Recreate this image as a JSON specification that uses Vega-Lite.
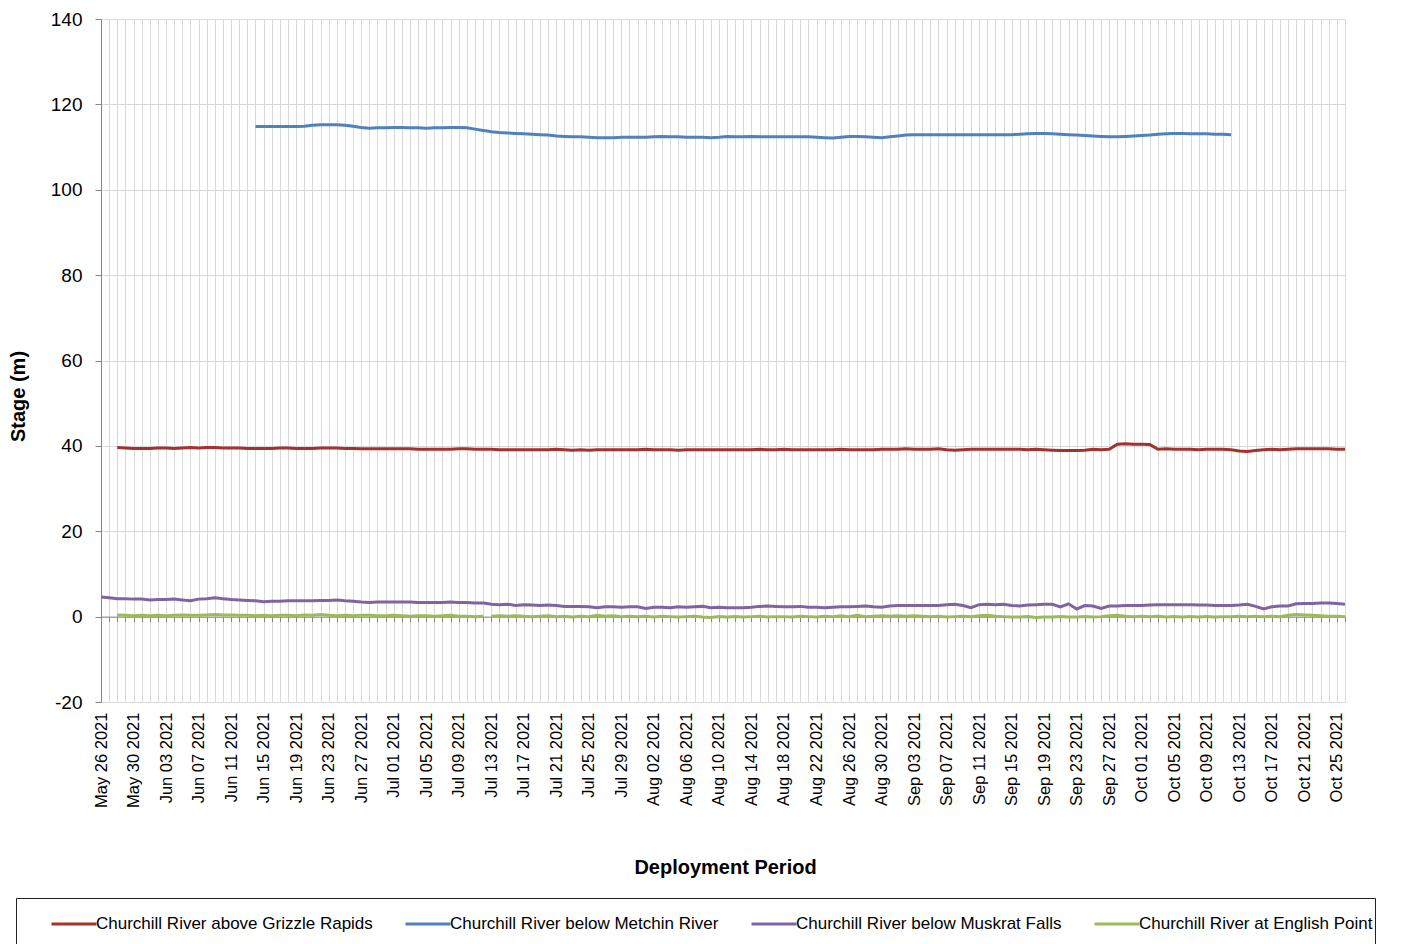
{
  "$schema": "https://vega.github.io/schema/vega-lite/v6.json",
  "width": 1244,
  "height": 683,
  "autosize": {"type": "none"},
  "padding": {"left": 101, "top": 19, "right": 58, "bottom": 242},
  "background": "white",
  "config": {
    "view": {"stroke": null},
    "font": "Liberation Sans",
    "axis": {"labelFont": "Liberation Sans", "titleFont": "Liberation Sans", "labelColor": "#000", "titleColor": "#000"}
  },
  "data": {"values": [
    {"d":"2021-05-26","c":4.6},
    {"d":"2021-05-27","c":4.4},
    {"d":"2021-05-28","a":39.6,"c":4.2,"e":0.4},
    {"d":"2021-05-29","a":39.5,"c":4.2,"e":0.3},
    {"d":"2021-05-30","a":39.4,"c":4.1,"e":0.2},
    {"d":"2021-05-31","a":39.4,"c":4.1,"e":0.3},
    {"d":"2021-06-01","a":39.4,"c":3.9,"e":0.2},
    {"d":"2021-06-02","a":39.5,"c":4.0,"e":0.3},
    {"d":"2021-06-03","a":39.5,"c":4.0,"e":0.2},
    {"d":"2021-06-04","a":39.4,"c":4.1,"e":0.3},
    {"d":"2021-06-05","a":39.5,"c":3.9,"e":0.4},
    {"d":"2021-06-06","a":39.6,"c":3.7,"e":0.3},
    {"d":"2021-06-07","a":39.5,"c":4.1,"e":0.3},
    {"d":"2021-06-08","a":39.6,"c":4.2,"e":0.4},
    {"d":"2021-06-09","a":39.6,"c":4.4,"e":0.5},
    {"d":"2021-06-10","a":39.5,"c":4.2,"e":0.4},
    {"d":"2021-06-11","a":39.5,"c":4.0,"e":0.4},
    {"d":"2021-06-12","a":39.5,"c":3.9,"e":0.3},
    {"d":"2021-06-13","a":39.4,"c":3.8,"e":0.3},
    {"d":"2021-06-14","a":39.4,"b":114.8,"c":3.7,"e":0.2},
    {"d":"2021-06-15","a":39.4,"b":114.8,"c":3.5,"e":0.3},
    {"d":"2021-06-16","a":39.4,"b":114.8,"c":3.6,"e":0.2},
    {"d":"2021-06-17","a":39.5,"b":114.8,"c":3.6,"e":0.3},
    {"d":"2021-06-18","a":39.5,"b":114.8,"c":3.7,"e":0.3},
    {"d":"2021-06-19","a":39.4,"b":114.8,"c":3.7,"e":0.2},
    {"d":"2021-06-20","a":39.4,"b":114.9,"c":3.7,"e":0.4},
    {"d":"2021-06-21","a":39.4,"b":115.1,"c":3.7,"e":0.3},
    {"d":"2021-06-22","a":39.5,"b":115.2,"c":3.8,"e":0.5},
    {"d":"2021-06-23","a":39.5,"b":115.2,"c":3.8,"e":0.3},
    {"d":"2021-06-24","a":39.5,"b":115.2,"c":3.9,"e":0.2},
    {"d":"2021-06-25","a":39.4,"b":115.1,"c":3.7,"e":0.3},
    {"d":"2021-06-26","a":39.4,"b":114.9,"c":3.6,"e":0.2},
    {"d":"2021-06-27","a":39.3,"b":114.6,"c":3.4,"e":0.3},
    {"d":"2021-06-28","a":39.3,"b":114.4,"c":3.3,"e":0.3},
    {"d":"2021-06-29","a":39.3,"b":114.5,"c":3.4,"e":0.2},
    {"d":"2021-06-30","a":39.3,"b":114.5,"c":3.4,"e":0.2},
    {"d":"2021-07-01","a":39.3,"b":114.6,"c":3.4,"e":0.3},
    {"d":"2021-07-02","a":39.3,"b":114.6,"c":3.4,"e":0.2},
    {"d":"2021-07-03","a":39.3,"b":114.5,"c":3.4,"e":0.1},
    {"d":"2021-07-04","a":39.2,"b":114.5,"c":3.3,"e":0.2},
    {"d":"2021-07-05","a":39.2,"b":114.4,"c":3.3,"e":0.2},
    {"d":"2021-07-06","a":39.2,"b":114.5,"c":3.3,"e":0.1},
    {"d":"2021-07-07","a":39.2,"b":114.5,"c":3.3,"e":0.2},
    {"d":"2021-07-08","a":39.2,"b":114.6,"c":3.4,"e":0.3},
    {"d":"2021-07-09","a":39.3,"b":114.6,"c":3.3,"e":0.1},
    {"d":"2021-07-10","a":39.3,"b":114.5,"c":3.3,"e":0.1},
    {"d":"2021-07-11","a":39.2,"b":114.2,"c":3.2,"e":0.0},
    {"d":"2021-07-12","a":39.2,"b":113.9,"c":3.2,"e":0.1},
    {"d":"2021-07-12T12:00:00Z","a":39.2,"b":113.75,"c":3.05},
    {"d":"2021-07-13","a":39.2,"b":113.6,"c":2.9,"e":0.1},
    {"d":"2021-07-14","a":39.1,"b":113.4,"c":2.8,"e":0.2},
    {"d":"2021-07-15","a":39.1,"b":113.3,"c":2.9,"e":0.1},
    {"d":"2021-07-16","a":39.1,"b":113.2,"c":2.6,"e":0.2},
    {"d":"2021-07-17","a":39.1,"b":113.1,"c":2.8,"e":0.1},
    {"d":"2021-07-18","a":39.1,"b":113.0,"c":2.7,"e":0.0},
    {"d":"2021-07-19","a":39.1,"b":112.9,"c":2.6,"e":0.1},
    {"d":"2021-07-20","a":39.1,"b":112.8,"c":2.7,"e":0.2},
    {"d":"2021-07-21","a":39.2,"b":112.6,"c":2.6,"e":0.0},
    {"d":"2021-07-22","a":39.1,"b":112.5,"c":2.4,"e":0.1},
    {"d":"2021-07-23","a":39.0,"b":112.4,"c":2.4,"e":-0.1},
    {"d":"2021-07-24","a":39.1,"b":112.4,"c":2.4,"e":0.1},
    {"d":"2021-07-25","a":39.0,"b":112.3,"c":2.3,"e":0.0},
    {"d":"2021-07-26","a":39.1,"b":112.2,"c":2.1,"e":0.3},
    {"d":"2021-07-27","a":39.1,"b":112.2,"c":2.3,"e":0.1},
    {"d":"2021-07-28","a":39.1,"b":112.2,"c":2.3,"e":0.2},
    {"d":"2021-07-29","a":39.1,"b":112.3,"c":2.2,"e":0.0},
    {"d":"2021-07-30","a":39.1,"b":112.3,"c":2.3,"e":0.1},
    {"d":"2021-07-31","a":39.1,"b":112.3,"c":2.3,"e":0.0},
    {"d":"2021-08-01","a":39.2,"b":112.3,"c":1.9,"e":0.1},
    {"d":"2021-08-02","a":39.1,"b":112.4,"c":2.2,"e":-0.1},
    {"d":"2021-08-03","a":39.1,"b":112.5,"c":2.2,"e":0.1},
    {"d":"2021-08-04","a":39.1,"b":112.4,"c":2.1,"e":0.0},
    {"d":"2021-08-05","a":39.0,"b":112.4,"c":2.3,"e":-0.1},
    {"d":"2021-08-06","a":39.1,"b":112.3,"c":2.2,"e":0.0},
    {"d":"2021-08-07","a":39.1,"b":112.3,"c":2.3,"e":0.1},
    {"d":"2021-08-08","a":39.1,"b":112.3,"c":2.4,"e":-0.1},
    {"d":"2021-08-09","a":39.1,"b":112.2,"c":2.1,"e":-0.2},
    {"d":"2021-08-10","a":39.1,"b":112.3,"c":2.2,"e":0.0},
    {"d":"2021-08-11","a":39.1,"b":112.5,"c":2.1,"e":-0.1},
    {"d":"2021-08-12","a":39.1,"b":112.4,"c":2.1,"e":0.0},
    {"d":"2021-08-13","a":39.1,"b":112.4,"c":2.1,"e":-0.1},
    {"d":"2021-08-14","a":39.1,"b":112.5,"c":2.2,"e":0.0},
    {"d":"2021-08-15","a":39.2,"b":112.4,"c":2.4,"e":0.1},
    {"d":"2021-08-16","a":39.1,"b":112.4,"c":2.5,"e":-0.1},
    {"d":"2021-08-17","a":39.1,"b":112.4,"c":2.4,"e":0.0},
    {"d":"2021-08-18","a":39.2,"b":112.4,"c":2.3,"e":0.0},
    {"d":"2021-08-19","a":39.1,"b":112.4,"c":2.3,"e":-0.1},
    {"d":"2021-08-20","a":39.1,"b":112.4,"c":2.4,"e":0.1},
    {"d":"2021-08-21","a":39.1,"b":112.4,"c":2.2,"e":0.0},
    {"d":"2021-08-22","a":39.1,"b":112.3,"c":2.2,"e":-0.1},
    {"d":"2021-08-23","a":39.1,"b":112.2,"c":2.1,"e":0.1},
    {"d":"2021-08-24","a":39.1,"b":112.1,"c":2.2,"e":0.0},
    {"d":"2021-08-25","a":39.2,"b":112.3,"c":2.3,"e":0.2},
    {"d":"2021-08-26","a":39.1,"b":112.5,"c":2.3,"e":0.0},
    {"d":"2021-08-27","a":39.1,"b":112.5,"c":2.4,"e":0.3},
    {"d":"2021-08-28","a":39.1,"b":112.4,"c":2.5,"e":0.0},
    {"d":"2021-08-29","a":39.1,"b":112.3,"c":2.3,"e":0.1},
    {"d":"2021-08-30","a":39.2,"b":112.2,"c":2.2,"e":0.2},
    {"d":"2021-08-31","a":39.2,"b":112.4,"c":2.5,"e":0.1},
    {"d":"2021-09-01","a":39.2,"b":112.6,"c":2.6,"e":0.2},
    {"d":"2021-09-02","a":39.3,"b":112.8,"c":2.6,"e":0.1},
    {"d":"2021-09-03","a":39.2,"b":112.9,"c":2.6,"e":0.2},
    {"d":"2021-09-04","a":39.2,"b":112.9,"c":2.6,"e":0.1},
    {"d":"2021-09-05","a":39.2,"b":112.9,"c":2.6,"e":0.0},
    {"d":"2021-09-06","a":39.3,"b":112.9,"c":2.6,"e":0.1},
    {"d":"2021-09-07","a":39.1,"b":112.9,"c":2.8,"e":-0.1},
    {"d":"2021-09-08","a":39.0,"b":112.9,"c":2.9,"e":0.0},
    {"d":"2021-09-09","a":39.1,"b":112.9,"c":2.6,"e":0.1},
    {"d":"2021-09-10","a":39.2,"b":112.9,"c":2.1,"e":0.0},
    {"d":"2021-09-11","a":39.2,"b":112.9,"c":2.8,"e":0.2},
    {"d":"2021-09-12","a":39.2,"b":112.9,"c":2.9,"e":0.3},
    {"d":"2021-09-13","a":39.2,"b":112.9,"c":2.8,"e":0.1},
    {"d":"2021-09-14","a":39.2,"b":112.9,"c":2.9,"e":0.0},
    {"d":"2021-09-15","a":39.2,"b":112.9,"c":2.6,"e":-0.1},
    {"d":"2021-09-16","a":39.2,"b":113.0,"c":2.5,"e":-0.1},
    {"d":"2021-09-17","a":39.1,"b":113.1,"c":2.7,"e":0.0},
    {"d":"2021-09-18","a":39.2,"b":113.2,"c":2.8,"e":-0.2},
    {"d":"2021-09-19","a":39.1,"b":113.2,"c":2.9,"e":-0.1},
    {"d":"2021-09-20","a":39.0,"b":113.1,"c":2.9,"e":-0.1},
    {"d":"2021-09-21","a":38.9,"b":113.0,"c":2.3,"e":0.0},
    {"d":"2021-09-22","a":38.9,"b":112.9,"c":3.0,"e":-0.1},
    {"d":"2021-09-23","a":38.9,"b":112.8,"c":1.8,"e":-0.1},
    {"d":"2021-09-24","a":39.0,"b":112.7,"c":2.6,"e":0.0},
    {"d":"2021-09-25","a":39.2,"b":112.6,"c":2.5,"e":-0.1},
    {"d":"2021-09-26","a":39.1,"b":112.5,"c":1.9,"e":0.0},
    {"d":"2021-09-27","a":39.2,"b":112.4,"c":2.5,"e":0.2},
    {"d":"2021-09-28","a":40.4,"b":112.4,"c":2.5,"e":0.3},
    {"d":"2021-09-29","a":40.5,"b":112.5,"c":2.6,"e":0.1},
    {"d":"2021-09-30","a":40.4,"b":112.6,"c":2.6,"e":0.0},
    {"d":"2021-10-01","a":40.4,"b":112.7,"c":2.6,"e":0.1},
    {"d":"2021-10-02","a":40.3,"b":112.8,"c":2.7,"e":0.0},
    {"d":"2021-10-03","a":39.2,"b":113.0,"c":2.8,"e":0.1},
    {"d":"2021-10-04","a":39.3,"b":113.1,"c":2.8,"e":-0.1},
    {"d":"2021-10-05","a":39.2,"b":113.2,"c":2.8,"e":0.0},
    {"d":"2021-10-06","a":39.2,"b":113.2,"c":2.8,"e":-0.1},
    {"d":"2021-10-07","a":39.2,"b":113.1,"c":2.8,"e":0.0},
    {"d":"2021-10-08","a":39.1,"b":113.1,"c":2.7,"e":-0.1},
    {"d":"2021-10-09","a":39.2,"b":113.1,"c":2.7,"e":0.0},
    {"d":"2021-10-10","a":39.2,"b":113.0,"c":2.6,"e":-0.1},
    {"d":"2021-10-11","a":39.2,"b":113.0,"c":2.6,"e":0.0},
    {"d":"2021-10-12","a":39.1,"b":112.9,"c":2.6,"e":0.0},
    {"d":"2021-10-13","a":38.8,"c":2.7,"e":0.1},
    {"d":"2021-10-14","a":38.7,"c":2.9,"e":0.0},
    {"d":"2021-10-15","a":38.9,"c":2.4,"e":0.1},
    {"d":"2021-10-16","a":39.1,"c":1.8,"e":0.0},
    {"d":"2021-10-17","a":39.2,"c":2.3,"e":0.1},
    {"d":"2021-10-18","a":39.1,"c":2.5,"e":0.0},
    {"d":"2021-10-19","a":39.2,"c":2.5,"e":0.3},
    {"d":"2021-10-20","a":39.3,"c":3.0,"e":0.5},
    {"d":"2021-10-21","a":39.3,"c":3.1,"e":0.4},
    {"d":"2021-10-22","a":39.3,"c":3.1,"e":0.3},
    {"d":"2021-10-23","a":39.3,"c":3.2,"e":0.2},
    {"d":"2021-10-24","a":39.3,"c":3.2,"e":0.1},
    {"d":"2021-10-25","a":39.2,"c":3.1,"e":0.1},
    {"d":"2021-10-26","a":39.2,"c":2.9,"e":0.0}
  ]},
  "transform": [
    {"fold": ["a", "b", "c", "e"], "as": ["series", "value"]}
  ],
  "mark": {"type": "line", "strokeWidth": 3, "invalid": "break-paths-filter-domains"},
  "encoding": {
    "x": {
      "field": "d", "type": "temporal",
      "scale": {"type": "utc", "domain": [{"year": 2021, "month": 5, "date": 26, "utc": true}, {"year": 2021, "month": 10, "date": 26, "utc": true}], "nice": false},
      "axis": {
        "title": "Deployment Period",
        "titleFontSize": 20, "titleFontWeight": "bold",
        "titleX": 624, "titleY": 250.4, "titleBaseline": "middle", "titleAlign": "center", "titleAnchor": null,
        "tickCount": {"interval": "day", "step": 1},
        "labelExpr": "(round((time(datum.value) - 1621987200000) / 86400000) % 4 == 0) ? utcFormat(datum.value, '%b %d %Y') : ''",
        "labelAngle": -90, "labelAlign": "right", "labelBaseline": "middle",
        "labelFontSize": 16.5, "labelOverlap": false, "labelFlush": false, "labelBound": false,
        "offset": -85.375,
        "labelPadding": 90.4,
        "tickSize": 5, "tickColor": "#868686", "domainColor": "#868686", "domainWidth": 1,
        "grid": true, "gridColor": "#d9d9d9", "gridWidth": 1
      }
    },
    "y": {
      "field": "value", "type": "quantitative",
      "scale": {"domain": [-20, 140], "nice": false, "zero": false},
      "axis": {
        "title": "Stage (m)",
        "titleFontSize": 20, "titleFontWeight": "bold",
        "titleX": -83, "titleY": 377, "titleAngle": -90, "titleBaseline": "middle", "titleAlign": "center", "titleAnchor": null,
        "values": [-20, 0, 20, 40, 60, 80, 100, 120, 140],
        "labelExpr": "'' + datum.value",
        "labelFontSize": 19, "labelPadding": 13,
        "tickSize": 6, "tickColor": "#868686", "domainColor": "#868686",
        "grid": true, "gridColor": "#d9d9d9", "gridWidth": 1
      }
    },
    "color": {
      "field": "series", "type": "nominal",
      "scale": {"domain": ["a", "b", "c", "e"], "range": ["#A3322F", "#4F81BD", "#8064A2", "#9BBB59"]},
      "legend": {
        "title": " ", "titleOrient": "left", "titlePadding": 32, "titleFontSize": 60, "titleAnchor": "start",
        "orient": "none", "legendX": -85, "legendY": 879,
        "direction": "horizontal",
        "labelExpr": "datum.label == 'a' ? 'Churchill River above Grizzle Rapids' : datum.label == 'b' ? 'Churchill River below Metchin River' : datum.label == 'c' ? 'Churchill River below Muskrat Falls' : 'Churchill River at English Point'",
        "labelFontSize": 17, "labelFont": "Liberation Sans", "labelColor": "#000", "labelLimit": 500, "labelOffset": -2,
        "symbolType": "stroke", "symbolSize": 2025, "symbolStrokeWidth": 3,
        "columnPadding": 26,
        "padding": 2, "strokeColor": "#222", "fillColor": "white"
      }
    }
  }
}
